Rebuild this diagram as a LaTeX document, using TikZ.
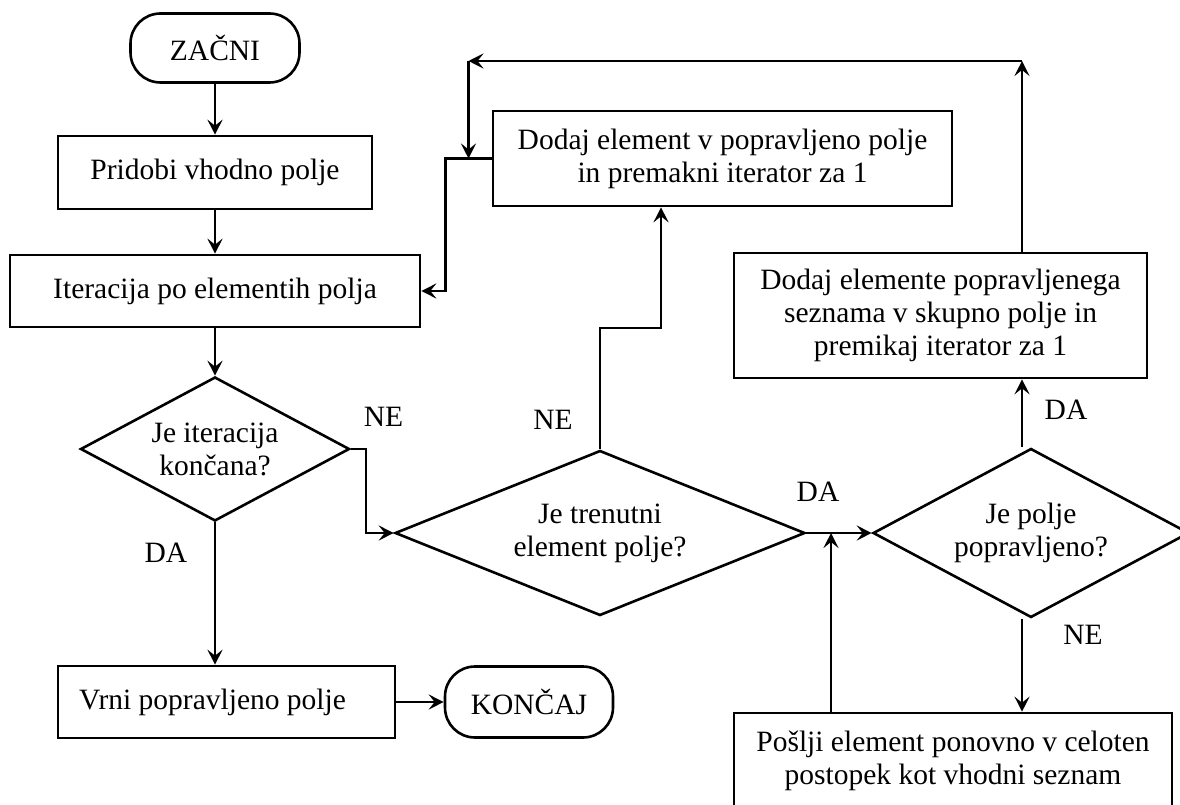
\documentclass[tikz,border=0pt]{standalone}
\usepackage{fontspec}
\setmainfont{Liberation Serif}
\usetikzlibrary{arrows.meta,shapes.geometric}
\begin{document}
\begin{tikzpicture}[x=1pt,y=-1pt,
  every node/.style={font=\fontsize{29.5}{33}\selectfont},
  box/.style={draw,line width=2.6pt,rectangle,inner sep=0pt,align=center},
  term/.style={draw,line width=2.6pt,rectangle,rounded corners=30pt,inner sep=0pt},
  dec/.style={draw,line width=2.6pt,diamond,inner sep=0pt,align=center},
  arr/.style={line width=2.6pt,-{Stealth[length=15pt,width=15pt,inset=6pt]}},
  lab/.style={inner sep=0pt}]
\useasboundingbox (0,0) rectangle (1180,805);

\node[term,minimum width=169pt,minimum height=69pt] (start) at (215,48) {ZAČNI};
\node[box,minimum width=314pt,minimum height=73pt] (b1) at (215,172.5) {Pridobi vhodno polje};
\node[box,minimum width=410pt,minimum height=72pt] (b2) at (215,291) {Iteracija po elementih polja};
\node[dec,minimum width=269pt,minimum height=144pt,shape aspect=1.87] (d1) at (215,449) {Je iteracija\\končana?};
\node[box,minimum width=337pt,minimum height=72pt] (vrni) at (226.5,702) {\hspace*{-28pt}Vrni popravljeno polje};
\node[term,minimum width=168pt,minimum height=71pt] (konec) at (529,702) {KONČAJ};
\node[dec,minimum width=410pt,minimum height=165pt,shape aspect=2.48] (d2) at (600,533) {Je trenutni\\element polje?};
\node[box,minimum width=459pt,minimum height=95pt] (dod1) at (722.5,158.5) {Dodaj element v popravljeno polje\\in premakni iterator za 1};
\node[dec,minimum width=316pt,minimum height=169pt,shape aspect=1.87] (d3) at (1031,533) {Je polje\\popravljeno?};
\node[box,minimum width=413pt,minimum height=125pt] (dod2) at (940.5,315.5) {Dodaj elemente popravljenega\\seznama v skupno polje in\\premikaj iterator za 1};
\node[box,minimum width=438pt,minimum height=96pt] (posl) at (953,761) {Pošlji element ponovno v celoten\\postopek kot vhodni seznam};

% labels
\node[lab] (ne1) at (383.5,417) {NE};
\node[lab] (da1) at (166,553) {DA};
\node[lab] (ne2) at (553,420) {NE};
\node[lab] (da2) at (818,492) {DA};
\node[lab] (da3) at (1066,410) {DA};
\node[lab] (ne3) at (1083,635) {NE};

% helper coordinates
\coordinate (k1) at (661,328);
\coordinate (j2) at (831,533);
\coordinate (tr) at (1022,61);
\coordinate (tl) at (468.5,61);
\coordinate (ml) at (468.5,158.5);

% connectors
\draw[arr] (start.south) -- (b1.north);
\draw[arr] (b1.south) -- (b2.north);
\draw[arr] (b2.south) -- (d1.north);
\draw[arr] (d1.east) -- ++(15,0) |- (d2.west);
\draw[arr] (d1.south) -- (d1.south |- vrni.north);
\draw[arr] (vrni.east) -- (konec.west);
\draw[arr] (d2.north) |- (k1) -- (k1 |- dod1.south);
\draw[arr] (dod1.west) -- ++(-46,0) |- (b2.east);
\draw[arr] (d2.east) -- (d3.west);
\draw[arr] (j2 |- posl.north) -- (j2);
\draw[arr] ([xshift=-9pt]d3.north) -- (tr |- dod2.south);
\draw[arr] ([xshift=-9pt]d3.south) -- (tr |- posl.north);
\draw[arr] (tr |- dod2.north) -- (tr);
\draw[arr] (tr) -- (tl);
\draw[arr] (tl) -- (ml);
\end{tikzpicture}
\end{document}
